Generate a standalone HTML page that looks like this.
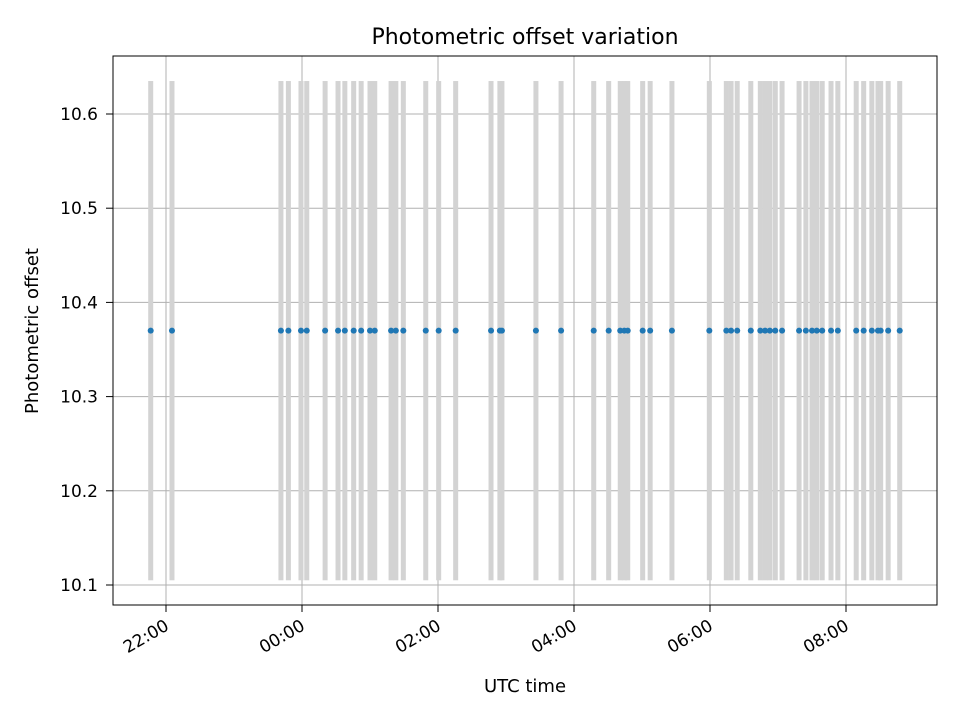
<!DOCTYPE html>
<html><head><meta charset="utf-8"><style>
body{margin:0;background:#fff;font-family:"Liberation Sans","DejaVu Sans",sans-serif}
svg text{font-family:"DejaVu Sans","Liberation Sans",sans-serif;fill:#000}
</style></head><body>
<svg id="chart" width="960" height="720" xmlns="http://www.w3.org/2000/svg">
<rect width="960" height="720" fill="#fff"/>
<g id="grid"></g><g id="bars"></g><g id="pts"></g><g id="axes"></g>
<text x="525" y="44" font-size="22" text-anchor="middle">Photometric offset variation</text>
<text x="525" y="692" font-size="18" text-anchor="middle">UTC time</text>
<text x="38" y="331" font-size="18" text-anchor="middle" transform="rotate(-90 38 331)">Photometric offset</text>
</svg>
<script>
// hours (decimal, beyond 24 = next day)
const times=[21.775,22.088,23.69,23.80,23.985,24.07,24.34,24.53,24.63,24.76,24.87,25.0,25.07,25.31,25.38,25.49,25.82,26.01,26.26,26.78,26.91,26.94,27.44,27.81,28.29,28.51,28.68,28.74,28.79,29.01,29.12,29.44,29.99,30.24,30.31,30.40,30.60,30.74,30.81,30.88,30.96,31.06,31.31,31.41,31.50,31.57,31.65,31.78,31.88,32.15,32.26,32.38,32.47,32.51,32.62,32.79];
const offsets=times.map(()=>10.37);
const barLow=10.105, barHigh=10.635;
const xTickHours=[22,24,26,28,30,32];
const xTickLabels=["22:00","00:00","02:00","04:00","06:00","08:00"];
const yTicks=[10.1,10.2,10.3,10.4,10.5,10.6];
const L=113,R=937,T=56,B=605;
const X=h=>166+(h-22)*68;
const Y=v=>585-(v-10.1)*942;
const NS="http://www.w3.org/2000/svg";
function mk(tag,attrs,parent,txt){const e=document.createElementNS(NS,tag);for(const k in attrs)e.setAttribute(k,attrs[k]);if(txt!==undefined)e.textContent=txt;document.getElementById(parent).appendChild(e);return e;}
xTickHours.forEach((h,i)=>{
 const g=mk('line',{x1:X(h),x2:X(h),y1:T,y2:B,stroke:'#b0b0b0','stroke-width':1},'grid');
 
 
 mk('line',{x1:X(h),x2:X(h),y1:B,y2:B+7,stroke:'#000'},'axes');
 const x=X(h)+4,y=B+24;
 const t=mk('text',{x:x,y:y,'font-size':17,'text-anchor':'end',transform:`rotate(-30 ${x} ${y})`},'axes',xTickLabels[i]);
 
 
});
yTicks.forEach(v=>{
 const g=mk('line',{x1:L,x2:R,y1:Y(v),y2:Y(v),stroke:'#b0b0b0','stroke-width':1},'grid');
 
 
 mk('line',{x1:L-7,x2:L,y1:Y(v),y2:Y(v),stroke:'#000'},'axes');
 const t=mk('text',{x:L-15,y:Y(v)+6,'font-size':17,'text-anchor':'end'},'axes',v.toFixed(1));
 
 
});
times.forEach((h,i)=>{
 const b=mk('rect',{x:X(h)-2.5,y:Y(barHigh),width:5,height:Y(barLow)-Y(barHigh),fill:'#d3d3d3'},'bars');
 
 
 const p=mk('circle',{cx:X(h),cy:Y(offsets[i]),r:3,fill:'#1f77b4'},'pts');
 
 
});
const f=mk('rect',{x:L,y:T,width:R-L,height:B-T,fill:'none',stroke:'#000','stroke-width':1},'axes');


</script>
</body></html>
